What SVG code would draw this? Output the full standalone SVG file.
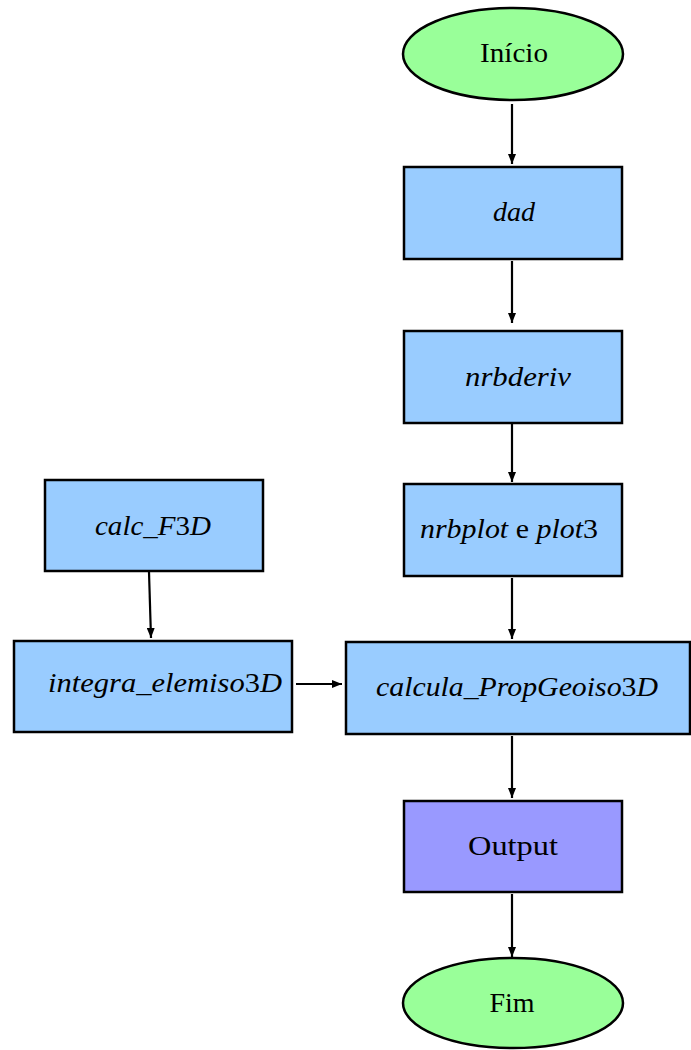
<svg xmlns="http://www.w3.org/2000/svg" width="691" height="1050" viewBox="0 0 691 1050">
<style>
.n{fill:#99ccff;stroke:#000;stroke-width:2.5}
.o{fill:#9999ff;stroke:#000;stroke-width:2.5}
.e{fill:#99ff99;stroke:#000;stroke-width:2.5}
.t{font-family:"Liberation Serif",serif;font-size:28px;fill:#000;text-anchor:middle;dominant-baseline:central}
.i{font-style:italic}
.c{stroke:#000;stroke-width:2.2;fill:none;marker-end:url(#a)}
</style>
<defs>
<marker id="a" viewBox="0 0 10 8" refX="10" refY="4" markerWidth="10" markerHeight="8" markerUnits="userSpaceOnUse" orient="auto">
<path d="M0,0 L10,4 L0,8 Z" fill="#000"/>
</marker>
</defs>
<g id="connectors">
<line class="c" x1="512" y1="104" x2="512" y2="164"/>
<line class="c" x1="512" y1="261" x2="512" y2="323"/>
<line class="c" x1="512" y1="424" x2="512" y2="482"/>
<line class="c" x1="512" y1="578" x2="512" y2="639"/>
<line class="c" x1="512" y1="736" x2="512" y2="798"/>
<line class="c" x1="512" y1="894" x2="512" y2="957"/>
<line class="c" x1="149" y1="572" x2="151" y2="638"/>
<line class="c" x1="296" y1="684" x2="342" y2="684"/>
</g>
<g id="inicio">
<ellipse class="e" cx="513" cy="54" rx="110" ry="46"/>
<text class="t" x="514" y="52" textLength="68" lengthAdjust="spacingAndGlyphs">Início</text>
</g>
<g id="dad">
<rect class="n" x="404" y="167" width="218" height="92"/>
<text class="t i" x="514" y="211">dad</text>
</g>
<g id="nrbderiv">
<rect class="n" x="404" y="331" width="218" height="92"/>
<text class="t i" x="518" y="376" textLength="106" lengthAdjust="spacingAndGlyphs">nrbderiv</text>
</g>
<g id="nrbplot">
<rect class="n" x="404" y="484" width="218" height="92"/>
<text class="t" x="509" y="528" textLength="178" lengthAdjust="spacingAndGlyphs"><tspan class="i">nrbplot</tspan> e <tspan class="i">plot</tspan>3</text>
</g>
<g id="calc_F3D">
<rect class="n" x="45" y="480" width="218" height="91"/>
<text class="t" x="153" y="525" textLength="116" lengthAdjust="spacingAndGlyphs"><tspan class="i">calc_F</tspan>3<tspan class="i">D</tspan></text>
</g>
<g id="integra">
<rect class="n" x="14" y="641" width="278" height="91"/>
<text class="t" x="165" y="682" textLength="234" lengthAdjust="spacingAndGlyphs"><tspan class="i">integra_elemiso</tspan>3<tspan class="i">D</tspan></text>
</g>
<g id="calcula">
<rect class="n" x="346" y="642" width="344" height="92"/>
<text class="t" x="517" y="686" textLength="282" lengthAdjust="spacingAndGlyphs"><tspan class="i">calcula_PropGeoiso</tspan>3<tspan class="i">D</tspan></text>
</g>
<g id="output">
<rect class="o" x="404" y="801" width="218" height="91"/>
<text class="t" x="513" y="845" textLength="90" lengthAdjust="spacingAndGlyphs">Output</text>
</g>
<g id="fim">
<ellipse class="e" cx="513" cy="1003" rx="110" ry="45"/>
<text class="t" x="512" y="1002">Fim</text>
</g>
</svg>
